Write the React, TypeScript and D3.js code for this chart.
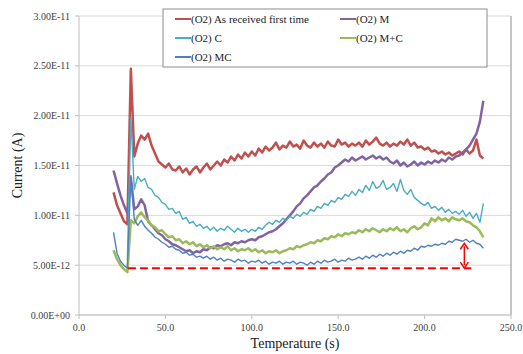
import React from "react";
import * as d3 from "d3";

// sampling temperatures (s)
const temps = [
  20, 22, 24, 26, 28, 30, 32, 34, 36, 38,
  40, 42, 44, 46, 48, 50, 52, 54, 56, 58,
  60, 62, 64, 66, 68, 70, 72, 74, 76, 78,
  80, 82, 84, 86, 88, 90, 92, 94, 96, 98,
  100, 102, 104, 106, 108, 110, 112, 114, 116, 118,
  120, 122, 124, 126, 128, 130, 132, 134, 136, 138,
  140, 142, 144, 146, 148, 150, 152, 154, 156, 158,
  160, 162, 164, 166, 168, 170, 172, 174, 176, 178,
  180, 182, 184, 186, 188, 190, 192, 194, 196, 198,
  200, 202, 204, 206, 208, 210, 212, 214, 216, 218,
  220, 222, 224, 226, 228, 230, 232, 234,
];

// currents in units of 1E-12 A
const asReceived = [
  12.3, 11.0, 10.2, 9.4, 9.1, 24.7, 15.9, 17.2, 18.0, 17.6,
  18.2, 17.0, 16.2, 15.4, 15.1, 14.8, 15.2, 14.6, 14.5, 14.9,
  14.3, 14.7, 14.1, 14.6, 14.9, 14.3, 14.8, 15.2, 14.6, 15.0,
  15.4, 15.0, 15.6, 15.3, 15.9, 15.5, 16.1, 15.7, 16.3, 15.9,
  16.4, 16.0, 16.7, 16.3, 16.9, 16.5, 16.8, 17.3, 16.6, 17.0,
  16.8, 17.4, 16.9, 17.1, 16.7, 17.5, 17.0, 16.8, 17.3, 16.9,
  17.2, 16.8, 17.4, 17.0, 16.9, 17.6, 17.1, 17.3, 16.9, 17.2,
  17.0, 17.3, 16.9, 17.5, 17.1, 17.4, 17.8, 17.2, 17.0, 17.3,
  16.9, 17.2, 17.0, 17.4, 17.1, 17.6, 17.0, 17.3, 16.8, 16.9,
  16.6, 16.8, 16.4, 16.5, 16.2, 16.4, 16.1, 16.3, 16.0, 16.2,
  16.4, 16.1, 16.6, 16.2, 16.5, 17.6, 16.0, 15.7,
];
const seriesM = [
  14.5, 13.2, 12.0, 11.0, 10.2, 13.8, 10.6, 10.9, 11.6, 11.0,
  9.4, 9.0, 8.6, 8.2, 8.0, 7.6, 7.4, 7.1, 7.0, 6.8,
  6.6, 6.4, 6.5, 6.2, 6.4, 6.3, 6.6, 6.5, 6.8, 6.7,
  7.0, 6.9, 7.1, 7.2, 7.0, 7.3, 7.2, 7.4, 7.3, 7.5,
  7.6, 7.5, 7.8, 7.9, 8.1, 8.3, 8.4, 8.6, 8.9, 9.2,
  9.6, 10.0, 10.4, 10.9, 11.2, 11.7, 12.0, 12.4, 12.8, 13.0,
  13.4, 13.7, 14.1, 14.3, 14.8, 15.0, 15.3, 15.6, 15.4, 15.8,
  15.5, 15.7, 15.9, 15.6, 15.8, 16.0, 15.7, 15.9, 15.6, 15.8,
  15.4, 15.2, 15.5, 15.0, 15.3, 14.9, 15.1, 15.4, 15.0, 15.3,
  15.1, 15.4, 15.2, 15.5, 15.3, 15.6, 15.4, 15.8, 15.6, 15.9,
  16.0, 16.3, 16.6, 17.0, 17.6, 18.2, 19.4, 21.5,
];
const seriesC = [
  null, null, null, null, 5.5, 19.8, 12.6, 13.9, 13.4, 13.7,
  12.8, 12.6, 12.0, 11.8, 11.3, 11.1, 10.6, 10.7, 10.2, 10.4,
  9.6, 9.8, 9.2, 9.4, 8.9, 9.1, 8.7, 8.9, 8.5, 8.8,
  8.4, 8.7, 8.5, 8.9, 8.6, 8.3, 8.7, 8.4, 8.6, 8.3,
  8.6, 8.4, 8.8, 8.6, 9.0, 9.3, 9.1, 9.5, 9.3, 9.7,
  9.5, 9.9, 9.7, 10.1, 9.9, 10.3, 10.1, 10.6, 10.4, 10.9,
  10.7, 11.2, 11.0, 11.5, 11.3, 11.8, 11.6, 12.1, 11.9, 12.4,
  12.0, 12.6, 12.3, 13.0, 12.5, 13.4, 12.7, 12.9, 13.5, 12.6,
  12.8, 13.2, 12.4, 13.6, 12.5, 12.1, 12.6, 11.8, 11.5, 11.2,
  11.0, 11.3, 10.7, 10.9, 10.5, 10.8, 10.3, 10.6, 10.2, 10.4,
  10.1, 10.5, 9.9, 10.3, 9.7, 10.2, 9.3, 11.2,
];
const seriesMplusC = [
  6.5, 5.6, 5.0, 4.6, 4.3, 9.5, 9.2, 9.9, 10.3, 9.8,
  9.5, 9.0, 8.8, 8.4, 8.5, 8.1, 7.8, 7.9, 7.5, 7.6,
  7.2, 7.4, 7.1, 7.3, 6.9, 7.1, 6.8, 7.0, 6.7, 6.9,
  6.6, 6.8, 6.6, 6.9, 6.5, 6.7, 6.4, 6.6, 6.5, 6.7,
  6.4, 6.6, 6.3, 6.5, 6.2, 6.4, 6.3, 6.5, 6.2, 6.4,
  6.5, 6.7, 6.6, 6.9, 6.8, 7.0, 7.1, 7.3, 7.2, 7.5,
  7.4, 7.7, 7.6, 7.9, 7.8, 8.1, 7.9, 8.2, 8.1, 8.3,
  8.2, 8.5, 8.3, 8.6, 8.4, 8.7, 8.5, 8.3, 8.6, 8.4,
  8.7, 8.5, 8.8, 8.4, 8.6, 8.3, 8.7, 8.9, 8.6, 8.8,
  9.2, 9.0, 9.7, 9.4, 9.8, 9.5, 9.7, 9.4, 9.8, 9.6,
  9.5, 9.7, 9.4, 9.3, 9.0, 8.8, 8.4, 7.8,
];
const seriesMC = [
  8.3, 6.2, 5.4, 5.0, 4.7, 14.0, 9.6, 9.0, 9.5, 8.9,
  8.5, 8.2, 7.8, 7.6, 7.3, 7.1, 6.8, 6.9, 6.6, 6.5,
  6.2, 6.3, 6.0, 6.1, 5.8, 5.9, 5.7, 5.9, 5.6, 5.8,
  5.5, 5.7, 5.4, 5.6, 5.5, 5.3, 5.6, 5.4, 5.5, 5.2,
  5.4, 5.3, 5.5, 5.2, 5.4, 5.1, 5.3, 5.2, 5.4, 5.1,
  5.3, 5.2, 5.4, 5.1, 5.3, 5.2, 5.0, 5.3, 5.1, 5.4,
  5.2, 5.5, 5.3, 5.4, 5.6, 5.3, 5.5, 5.4, 5.7, 5.5,
  5.6, 5.8, 5.6, 5.9, 5.7, 6.0, 5.8, 6.1, 5.9, 6.2,
  6.0, 6.3, 6.1, 6.4, 6.2, 6.5, 6.4, 6.7, 6.5, 6.9,
  6.8, 7.0, 6.9, 7.1, 7.0, 7.2, 7.1, 7.4, 7.3, 7.6,
  7.5, 7.4, 7.6, 7.3, 7.5, 7.2, 7.1, 6.7,
];

const seriesNames = [
  "(O2) As received first time",
  "(O2) M",
  "(O2) C",
  "(O2) M+C",
  "(O2) MC",
];
const seriesValues = [asReceived, seriesM, seriesC, seriesMplusC, seriesMC];
const seriesColors = ["#C0504D", "#8064A2", "#4BACC6", "#9BBB59", "#4F81BD"];
const seriesWidths = [2.5, 2.5, 1.4, 2.5, 1.4];

const yTicks = [0, 5, 10, 15, 20, 25, 30];
const yTickLabels = [
  "0.00E+00", "5.00E-12", "1.00E-11", "1.50E-11", "2.00E-11", "2.50E-11", "3.00E-11",
];
const xTicks = [0, 50, 100, 150, 200, 250];

// red annotation: baseline from / to temperature, arrow at temperature
const baseline = { level: 4.7, from: 28.3, to: 227 };
const arrowMark = { at: 223, low: 4.7, high: 7.2 };

const W = 523;
const H = 354;
const margin = { left: 79, right: 12, top: 16, bottom: 39 };
const serif = '"Liberation Serif", "Times New Roman", serif';

export default function App() {
  const x = d3.scaleLinear().domain([0, 250]).range([margin.left, W - margin.right]);
  const y = d3.scaleLinear().domain([0, 30]).range([H - margin.bottom, margin.top]);

  const line = d3
    .line<number | null>()
    .defined((d) => d != null)
    .x((_, i) => x(temps[i]))
    .y((d) => y(d as number));

  const legendRows = [
    [0, 1],
    [2, 3],
    [4],
  ];
  const lg = { x: 163, y: 9, w: 324, h: 58 };

  const ax = x(arrowMark.at);
  const ay1 = y(arrowMark.high);
  const ay2 = y(arrowMark.low);

  return (
    <svg
      width={W}
      height={H}
      style={{ position: "absolute", left: 0, top: 0, background: "#fff", fontFamily: serif }}
    >
      {/* grid */}
      {yTicks.map((t) => (
        <line key={t} x1={x(0)} x2={x(250)} y1={y(t)} y2={y(t)} stroke="#d9d9d9" strokeWidth={1} />
      ))}
      <line x1={x(250)} x2={x(250)} y1={y(30)} y2={y(0)} stroke="#8c8c8c" strokeWidth={1} />
      <line x1={x(0)} x2={x(0)} y1={y(30)} y2={y(0)} stroke="#bfbfbf" strokeWidth={1} />
      <line x1={x(0)} x2={x(250)} y1={y(0)} y2={y(0)} stroke="#bfbfbf" strokeWidth={1} />

      {/* y axis */}
      {yTicks.map((t, i) => (
        <g key={t}>
          <line x1={x(0) - 4} x2={x(0)} y1={y(t)} y2={y(t)} stroke="#bfbfbf" />
          <text x={x(0) - 9} y={y(t) + 3.5} fontSize={10} textAnchor="end" fill="#404040">
            {yTickLabels[i]}
          </text>
        </g>
      ))}
      {/* x axis */}
      {xTicks.map((t) => (
        <g key={t}>
          <line x1={x(t)} x2={x(t)} y1={y(0)} y2={y(0) + 4} stroke="#bfbfbf" />
          <text x={x(t)} y={y(0) + 16} fontSize={10} textAnchor="middle" fill="#404040">
            {t.toFixed(1)}
          </text>
        </g>
      ))}

      <text x={295} y={348} fontSize={14} textAnchor="middle" fill="#222">
        Temperature (s)
      </text>
      <text
        transform={`translate(22, ${(y(0) + y(30)) / 2}) rotate(-90)`}
        fontSize={14}
        textAnchor="middle"
        fill="#222"
      >
        Current (A)
      </text>

      {/* series */}
      {seriesValues.map((vals, i) => (
        <path
          key={seriesNames[i]}
          d={line(vals) || ""}
          fill="none"
          stroke={seriesColors[i]}
          strokeWidth={seriesWidths[i]}
          strokeLinejoin="round"
        />
      ))}

      {/* annotation */}
      <line
        x1={x(baseline.from)}
        x2={x(baseline.to)}
        y1={y(baseline.level)}
        y2={y(baseline.level)}
        stroke="#FF0000"
        strokeWidth={2}
        strokeDasharray="8,4"
      />
      <line x1={ax} x2={ax} y1={ay1 + 3} y2={ay2 - 3} stroke="#FF0000" strokeWidth={1.5} />
      <path d={`M${ax - 4},${ay1 + 6} L${ax},${ay1} L${ax + 4},${ay1 + 6}`} fill="none" stroke="#FF0000" strokeWidth={1.5} />
      <path d={`M${ax - 4},${ay2 - 6} L${ax},${ay2} L${ax + 4},${ay2 - 6}`} fill="none" stroke="#FF0000" strokeWidth={1.5} />

      {/* legend */}
      <rect x={lg.x} y={lg.y} width={lg.w} height={lg.h} fill="#fff" stroke="#8c8c8c" strokeWidth={1} />
      {legendRows.map((row, r) =>
        row.map((si, c) => {
          const lx = lg.x + 12 + c * 165;
          const ly = lg.y + 10 + r * 19;
          return (
            <g key={si}>
              <line x1={lx} x2={lx + 16} y1={ly} y2={ly} stroke={seriesColors[si]} strokeWidth={2} />
              <text x={lx + 16} y={ly + 4} fontSize={11} fill="#222">
                {seriesNames[si]}
              </text>
            </g>
          );
        })
      )}
    </svg>
  );
}
